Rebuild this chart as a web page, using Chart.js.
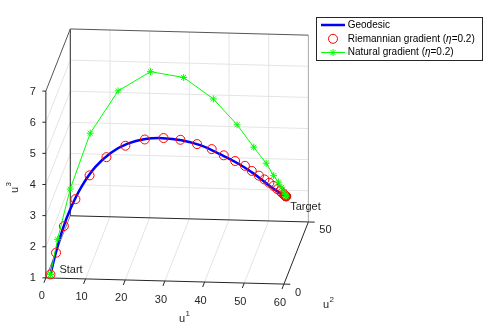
<!DOCTYPE html>
<html>
<head>
<meta charset="utf-8">
<script src="https://cdn.jsdelivr.net/npm/chart.js@4.4.1/dist/chart.umd.min.js"></script>
<style>
  html, body { margin: 0; padding: 0; background: #fff; }
  #wrap { width: 485px; height: 326px; position: relative; }
</style>
</head>
<body>
<div id="wrap"><canvas id="chart"></canvas></div>
<script>
// Geodesic curve (u1, u2, u3)
const geoU1 = [1.05, 2.17, 3.74, 5.75, 8.21, 11.34, 14.92, 18.72, 22.75, 26.78, 31.03, 35.5, 39.98, 44.0, 47.58, 50.71, 52.95, 55.0];
const geoU2 = [0.86, 1.78, 3.07, 4.72, 6.73, 9.3, 12.23, 15.35, 18.66, 21.96, 25.45, 29.11, 32.78, 36.08, 39.02, 41.58, 43.42, 45.1];
const geoU3 = [1.08, 1.68, 2.41, 3.09, 3.70, 4.23, 4.58, 4.76, 4.79, 4.70, 4.51, 4.21, 3.79, 3.38, 2.95, 2.52, 2.23, 2.0];

// Riemannian gradient iterates
const rieU1 = [1.05, 2.33, 4.12, 6.76, 10.0, 13.87, 18.21, 22.64, 26.94, 30.81, 34.61, 37.96, 40.72, 43.33, 45.57, 47.14, 48.77, 50.04, 51.16, 52.13, 53.02, 53.62, 54.07, 54.41, 54.63, 54.79, 54.88, 54.94, 54.97, 55.0];
const rieU2 = [0.86, 1.91, 3.38, 5.54, 8.2, 11.37, 14.93, 18.56, 22.09, 25.26, 28.38, 31.13, 33.39, 35.53, 37.37, 38.65, 39.99, 41.03, 41.95, 42.75, 43.48, 43.97, 44.34, 44.62, 44.8, 44.93, 45.0, 45.05, 45.07, 45.1];
const rieU3 = [1.08, 1.74, 2.54, 3.33, 4.00, 4.47, 4.71, 4.78, 4.70, 4.53, 4.28, 4.02, 3.74, 3.48, 3.26, 3.05, 2.85, 2.69, 2.55, 2.42, 2.29, 2.21, 2.14, 2.09, 2.05, 2.03, 2.02, 2.01, 2.005, 2.0];

// Natural gradient iterates
const natU1 = [1.05, 2.68, 5.57, 10.16, 16.55, 23.94, 31.54, 38.34, 43.78, 47.58, 50.43, 52.13, 53.24, 54.0, 54.52, 54.81, 55.0];
const natU2 = [0.86, 2.2, 4.57, 8.33, 13.57, 19.63, 25.86, 31.44, 35.9, 39.02, 41.35, 42.75, 43.66, 44.28, 44.71, 44.94, 45.1];
const natU3 = [1.08, 2.16, 3.69, 5.35, 6.52, 6.92, 6.51, 5.62, 4.63, 3.80, 3.20, 2.75, 2.51, 2.32, 2.16, 2.07, 2.0];

const u1Ticks = [0, 10, 20, 30, 40, 50, 60];
const u2Ticks = [0, 50];
const u3Ticks = [1, 2, 3, 4, 5, 6, 7];
const seriesNames = ['Geodesic', 'Riemannian gradient', 'Natural gradient'];
const eta = '0.2';

const FONT = "'Liberation Sans', Arial, Helvetica, sans-serif";
const AXIS = '#262626';

// fixed MATLAB-like view: 3D -> screen units of the x/y scales
function project(u1, u2, u3) {
    return {
        x: 41.3 + 4.06 * u1 + 0.5 * u2,
        y: 281.9 + 0.107 * u1 - 1.286 * u2 - 32.22 * (u3 - 1)
    };
}

function toPoints(a, b, c) {
    return a.map((v, i) => project(v, b[i], c[i]));
}

const box3d = {
    id: 'box3d',
    beforeDatasetsDraw(chart) {
        const ctx = chart.ctx;
        const xs = chart.scales.x, ys = chart.scales.y;
        const pt = (a, b, c) => {
            const p = project(a, b, c);
            return [xs.getPixelForValue(p.x), ys.getPixelForValue(p.y)];
        };
        const line = (p, q, color, w) => {
            ctx.beginPath();
            ctx.moveTo(p[0], p[1]);
            ctx.lineTo(q[0], q[1]);
            ctx.strokeStyle = color;
            ctx.lineWidth = w || 1;
            ctx.stroke();
        };
        const x0 = u1Ticks[0], x1 = u1Ticks[u1Ticks.length - 1];
        const y0 = u2Ticks[0], y1 = u2Ticks[u2Ticks.length - 1];
        const z0 = u3Ticks[0], z1 = u3Ticks[u3Ticks.length - 1];
        const grid = '#e4e4e4';

        ctx.save();
        // grid on back wall, floor and left wall
        u1Ticks.slice(1, -1).forEach(u => {
            line(pt(u, y1, z0), pt(u, y1, z1), grid);
            line(pt(u, y0, z0), pt(u, y1, z0), grid);
        });
        u3Ticks.slice(1, -1).forEach(z => {
            line(pt(x0, y1, z), pt(x1, y1, z), grid);
            line(pt(x0, y0, z), pt(x0, y1, z), grid);
        });

        // box edges
        line(pt(x1, y1, z0), pt(x1, y1, z1), '#a8a8a8');
        line(pt(x0, y1, z0), pt(x1, y1, z0), AXIS);
        line(pt(x0, y0, z0), pt(x0, y1, z0), '#808080');
        line(pt(x0, y1, z0), pt(x0, y1, z1), AXIS);
        line(pt(x0, y1, z1), pt(x1, y1, z1), '#555');
        line(pt(x0, y0, z1), pt(x0, y1, z1), '#555');
        line(pt(x0, y0, z0), pt(x1, y0, z0), AXIS);
        line(pt(x1, y0, z0), pt(x1, y1, z0), AXIS);
        line(pt(x0, y0, z0), pt(x0, y0, z1), AXIS);

        // ticks and tick labels
        ctx.fillStyle = AXIS;
        ctx.font = '11px ' + FONT;
        ctx.textBaseline = 'middle';
        ctx.textAlign = 'center';
        u1Ticks.forEach(u => {
            const p = pt(u, y0, z0);
            line(p, pt(u, y0 - 4, z0), AXIS);
            ctx.fillText(String(u), p[0] - 4, p[1] + 18.5);
        });
        ctx.textAlign = 'left';
        u2Ticks.forEach(v => {
            const p = pt(x1, v, z0);
            line(p, pt(x1 + 1.6, v, z0), AXIS);
            ctx.fillText(String(v), p[0] + 11, p[1] + 8.5);
        });
        ctx.textAlign = 'right';
        u3Ticks.forEach(z => {
            const p = pt(x0, y0, z);
            line(p, [p[0] - 3.5, p[1]], AXIS);
            ctx.fillText(String(z), p[0] - 10, p[1] + 0.5);
        });

        // axis labels u^1, u^2, u^3
        const sup = (base, s, x, y) => {
            ctx.textAlign = 'left';
            ctx.textBaseline = 'alphabetic';
            ctx.font = '11px ' + FONT;
            ctx.fillText(base, x, y);
            const w = ctx.measureText(base).width;
            ctx.font = '8px ' + FONT;
            ctx.fillText(s, x + w + 0.3, y - 6.5);
        };
        sup('u', '1', 179, 322);
        sup('u', '2', 323, 308);
        ctx.save();
        ctx.translate(17.5, 193);
        ctx.rotate(-Math.PI / 2);
        sup('u', '3', 0, 0);
        ctx.restore();
        ctx.restore();
    },
    afterDatasetsDraw(chart) {
        const ctx = chart.ctx;
        const xs = chart.scales.x, ys = chart.scales.y;
        const pt = (a, b, c) => {
            const p = project(a, b, c);
            return [xs.getPixelForValue(p.x), ys.getPixelForValue(p.y)];
        };
        ctx.save();
        ctx.fillStyle = AXIS;
        ctx.font = '11px ' + FONT;
        ctx.textAlign = 'left';
        ctx.textBaseline = 'middle';
        const s = pt(geoU1[0], geoU2[0], geoU3[0]);
        ctx.fillText('Start', s[0] + 9, s[1] - 4);
        const n = geoU1.length - 1;
        const t = pt(geoU1[n], geoU2[n], geoU3[n]);
        ctx.fillText('Target', t[0] + 4, t[1] + 11);

        // legend box
        const lx = 316.5, ly = 17.5, lw = 166, lh = 43;
        ctx.fillStyle = '#fff';
        ctx.fillRect(lx, ly, lw, lh);
        ctx.strokeStyle = AXIS;
        ctx.lineWidth = 1;
        ctx.strokeRect(lx, ly, lw, lh);

        const rows = [25, 38.8, 52.5];
        const ds = chart.data.datasets;
        rows.forEach((ry, i) => {
            const d = ds[i];
            if (d.showLine !== false) {
                ctx.beginPath();
                ctx.moveTo(321, ry);
                ctx.lineTo(345, ry);
                ctx.strokeStyle = d.borderColor;
                ctx.lineWidth = d.borderWidth;
                ctx.stroke();
            }
            if (d.pointRadius > 0) {
                ctx.strokeStyle = d.pointBorderColor;
                ctx.fillStyle = d.pointBackgroundColor;
                ctx.lineWidth = d.pointBorderWidth;
                Chart.helpers.drawPoint(ctx, {
                    pointStyle: d.pointStyle,
                    radius: d.pointRadius,
                    borderWidth: d.pointBorderWidth,
                    rotation: 0
                }, 333, ry);
            }
            // label text, eta in italics
            ctx.fillStyle = '#000';
            ctx.textAlign = 'left';
            ctx.textBaseline = 'middle';
            let x = 347.7;
            ctx.font = '10px ' + FONT;
            if (i === 0) {
                ctx.fillText(seriesNames[i], x, ry);
            } else {
                const a = seriesNames[i] + ' (';
                ctx.fillText(a, x, ry);
                x += ctx.measureText(a).width;
                ctx.font = 'italic 10px ' + FONT;
                ctx.fillText('\u03B7', x, ry);
                x += ctx.measureText('\u03B7').width;
                ctx.font = '10px ' + FONT;
                ctx.fillText('=' + eta + ')', x, ry);
            }
        });
        ctx.restore();
    }
};

new Chart(document.getElementById('chart'), {
    type: 'scatter',
    data: {
        datasets: [
            {
                label: seriesNames[0],
                data: toPoints(geoU1, geoU2, geoU3),
                showLine: true,
                borderColor: '#0000ff',
                borderWidth: 2.5,
                tension: 0.4,
                pointRadius: 0,
                order: 2
            },
            {
                label: seriesNames[1],
                data: toPoints(rieU1, rieU2, rieU3),
                showLine: false,
                pointStyle: 'circle',
                pointRadius: 4.5,
                pointBorderWidth: 1,
                pointBorderColor: '#ff0000',
                pointBackgroundColor: 'rgba(0,0,0,0)',
                borderColor: '#ff0000',
                backgroundColor: 'rgba(0,0,0,0)',
                order: 1
            },
            {
                label: seriesNames[2],
                data: toPoints(natU1, natU2, natU3),
                showLine: true,
                borderColor: '#00ff00',
                borderWidth: 1,
                tension: 0,
                pointStyle: 'star',
                pointRadius: 3.5,
                pointBorderWidth: 1,
                pointBorderColor: '#00ff00',
                pointBackgroundColor: '#00ff00',
                backgroundColor: '#00ff00',
                order: 0
            }
        ]
    },
    options: {
        responsive: true,
        maintainAspectRatio: false,
        animation: false,
        events: [],
        layout: { padding: 0 },
        scales: {
            x: { type: 'linear', min: 0, max: 485, display: false },
            y: { type: 'linear', min: 0, max: 326, reverse: true, display: false }
        },
        plugins: {
            legend: { display: false },
            tooltip: { enabled: false }
        }
    },
    plugins: [box3d]
});
</script>
</body>
</html>
